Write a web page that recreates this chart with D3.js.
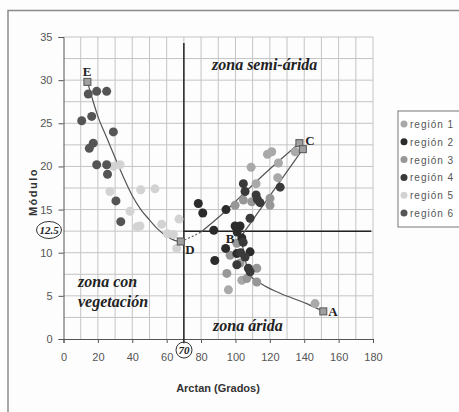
<!DOCTYPE html>
<html>
<head>
<meta charset="utf-8">
<script src="https://cdn.jsdelivr.net/npm/d3@7"></script>
<style>
  body { margin: 0; background: #fff; }
  svg { display: block; font-family: "Liberation Sans", Arial, sans-serif; }
  .tick text { fill: #555; font-size: 11px; }
  .zone { font-family: "Liberation Serif", "Times New Roman", serif; font-style: italic; font-weight: bold; fill: #222; }
  .pt-label { font-family: "Liberation Serif", "Times New Roman", serif; font-weight: bold; fill: #222; font-size: 13px; }
</style>
</head>
<body>
<div id="chart"></div>
<script>
// region series, [arctan (grados), modulo]
var region1 = [[118.6,21.4],[121.1,21.7],[134.7,21.7],[125,20.4],[109.1,19.9],[112,18.0],[124.6,18.7],[146.3,4.1],[95.9,5.7],[103.7,6.8]];
var region2 = [[78.4,15.7],[81,14.6],[94.5,15.0],[87.4,12.6],[99.8,13.1],[102.7,13.1],[101,12.4],[103.7,11.7],[94.3,10.5],[88,9.1],[100.8,9.9],[108.5,10.1]];
var region3 = [[109.5,15.9],[120.1,16.3],[120.1,15.5],[99.8,15.5],[104.6,16.1],[96.9,9.7],[102.7,8.8],[112.4,8.2],[112.4,6.6],[106.6,7.0],[95,7.6],[100.8,11.1]];
var region4 = [[104.6,18.0],[105.6,17.1],[112,16.7],[112.7,16.2],[114.3,15.8],[126,17.6],[108.5,14.0],[104.5,11.2],[105.6,9.5],[107.5,8.2],[108.5,7.8],[100.8,8.6],[103,10]];
var region5 = [[29,20.0],[32.9,20.2],[27,17.1],[44.9,17.3],[53.2,17.4],[38.7,14.8],[44.5,13.1],[42.8,13.0],[57.1,13.3],[67.2,13.9],[60.4,12.2],[63.9,12.1],[65.8,10.5]];
var region6 = [[14.4,28.4],[19.3,28.7],[25.1,28.7],[10.6,25.3],[16.4,25.8],[29.0,24.0],[17.3,22.7],[15.0,22.1],[19.3,20.2],[25.1,20.2],[25.6,19.1],[30.5,16.0],[33.3,13.6]];

var regionNames = ['región 1', 'región 2', 'región 3', 'región 4', 'región 5', 'región 6'];
var regionColors = ['#a9a9a9', '#2b2b2b', '#979797', '#3a3a3a', '#d3d3d3', '#555555'];

// trend lines
var curveED = [[13.9,29.8],[17,27.7],[20,25.8],[25,23.4],[30,21.0],[35,18.7],[40,16.6],[45,15.0],[50,13.8],[55,12.7],[60,11.9],[65,11.4],[68.2,11.3]];
var curveDdash = [[68.2,11.3],[74,11.8],[80,12.4]];
var curveDC = [[80,12.4],[93,14.6],[105,16.9],[120,19.7],[137.2,22.7]];
var lineBC = [[103,11.8],[139.2,22.0]];
var curveBA = [[103,11.8],[105.5,9.5],[107.5,7.6],[115,6.4],[126,5.3],[141.5,4.1],[151.1,3.2]];

var corners = [
  {name: 'E', x: 13.9, y: 29.8},
  {name: 'D', x: 68.2, y: 11.3},
  {name: 'C', x: 137.2, y: 22.7},
  {name: '', x: 139.2, y: 22.0},
  {name: 'A', x: 151.1, y: 3.2}
];

var xTicks = [0, 20, 40, 60, 80, 100, 120, 140, 160, 180],
    yTicks = [0, 5, 10, 15, 20, 25, 30, 35];

var width = 459, height = 412;

var x = d3.scaleLinear().domain([0, 180]).range([63.5, 373]),
    y = d3.scaleLinear().domain([0, 35]).range([339, 37]);

var svg = d3.select('#chart')
            .append('svg')
            .attr('width', width)
            .attr('height', height);

svg.append('rect')
   .attr('width', width)
   .attr('height', height)
   .attr('fill', '#fdfdfd');

// outer frame
svg.append('rect')
   .attr('x', 8)
   .attr('y', 10.5)
   .attr('width', 470)
   .attr('height', 420)
   .attr('fill', 'none')
   .attr('stroke', '#8a8a8a')
   .attr('stroke-width', 1.5);

// grid
var grid = svg.append('g');
grid.selectAll('.vg')
    .data(d3.range(10, 181, 10))
    .enter()
    .append('line')
    .attr('x1', function(d) { return x(d); })
    .attr('x2', function(d) { return x(d); })
    .attr('y1', y(0))
    .attr('y2', y(35))
    .attr('stroke', '#c4c4c4')
    .attr('stroke-width', 1);
grid.selectAll('.hg')
    .data(d3.range(2.5, 35.1, 2.5))
    .enter()
    .append('line')
    .attr('x1', x(0))
    .attr('x2', x(180))
    .attr('y1', function(d) { return y(d); })
    .attr('y2', function(d) { return y(d); })
    .attr('stroke', '#c4c4c4')
    .attr('stroke-width', 1);

// axes
var xAxis = d3.axisBottom(x).tickValues(xTicks).tickSize(4).tickPadding(10);
var yAxis = d3.axisLeft(y).tickValues(yTicks).tickSize(5).tickPadding(6);

svg.append('g')
   .attr('transform', 'translate(0,' + y(0) + ')')
   .call(xAxis)
   .call(function(g) { g.select('.domain').attr('stroke', '#555'); g.selectAll('line').attr('stroke', '#555'); });

svg.append('g')
   .attr('transform', 'translate(' + x(0) + ',0)')
   .call(yAxis)
   .call(function(g) { g.select('.domain').attr('stroke', '#555'); g.selectAll('line').attr('stroke', '#555'); });

svg.append('text')
   .attr('x', 218)
   .attr('y', 392)
   .attr('text-anchor', 'middle')
   .attr('font-size', 11)
   .attr('font-weight', 'bold')
   .attr('fill', '#333')
   .text('Arctan (Grados)');

svg.append('text')
   .attr('transform', 'translate(37,192) rotate(-90)')
   .attr('text-anchor', 'middle')
   .attr('font-size', 11)
   .attr('font-weight', 'bold')
   .attr('letter-spacing', 1.5)
   .attr('fill', '#333')
   .text('Módulo');

// threshold lines
svg.append('line')
   .attr('x1', x(70)).attr('x2', x(70))
   .attr('y1', y(-0.5)).attr('y2', y(34.3))
   .attr('stroke', '#222').attr('stroke-width', 1.5);
svg.append('line')
   .attr('x1', x(70)).attr('x2', x(179))
   .attr('y1', y(12.5)).attr('y2', y(12.5))
   .attr('stroke', '#222').attr('stroke-width', 1.5);

// trend lines
var line = d3.line()
             .x(function(d) { return x(d[0]); })
             .y(function(d) { return y(d[1]); })
             .curve(d3.curveMonotoneX);

[curveED, curveDC, lineBC, curveBA].forEach(function(pts) {
  svg.append('path')
     .attr('d', line(pts))
     .attr('fill', 'none')
     .attr('stroke', '#555')
     .attr('stroke-width', 1.2);
});
svg.append('path')
   .attr('d', line(curveDdash))
   .attr('fill', 'none')
   .attr('stroke', '#666')
   .attr('stroke-width', 1.2)
   .attr('stroke-dasharray', '2,2');

// points
var regions = [region1, region2, region3, region4, region5, region6];
var plotOrder = [4, 5, 0, 2, 1, 3];
plotOrder.forEach(function(i) {
  svg.append('g')
     .selectAll('circle')
     .data(regions[i])
     .enter()
     .append('circle')
     .attr('cx', function(d) { return x(d[0]); })
     .attr('cy', function(d) { return y(d[1]); })
     .attr('r', 4.5)
     .attr('fill', regionColors[i]);
});

// corner squares
svg.append('g')
   .selectAll('rect')
   .data(corners)
   .enter()
   .append('rect')
   .attr('x', function(d) { return x(d.x) - 3.5; })
   .attr('y', function(d) { return y(d.y) - 3.5; })
   .attr('width', 7)
   .attr('height', 7)
   .attr('fill', '#a0a0a0')
   .attr('stroke', '#555')
   .attr('stroke-width', 1);

var labelPos = {E: [87, 76], D: [190, 254], B: [230, 243], C: [310, 145], A: [333, 316]};
Object.keys(labelPos).forEach(function(k) {
  svg.append('text')
     .attr('class', 'pt-label')
     .attr('x', labelPos[k][0])
     .attr('y', labelPos[k][1])
     .attr('text-anchor', 'middle')
     .text(k);
});

// zone labels
svg.append('text').attr('class', 'zone').attr('x', 212).attr('y', 70).attr('font-size', 16).text('zona semi-árida');
svg.append('text').attr('class', 'zone').attr('x', 78).attr('y', 287).attr('font-size', 16).text('zona con');
svg.append('text').attr('class', 'zone').attr('x', 78).attr('y', 307).attr('font-size', 16).text('vegetación');
svg.append('text').attr('class', 'zone').attr('x', 213).attr('y', 331).attr('font-size', 16).text('zona árida');

// circled thresholds
svg.append('ellipse').attr('cx', 49).attr('cy', 230).attr('rx', 12.5).attr('ry', 8.5)
   .attr('fill', 'none').attr('stroke', '#333').attr('stroke-width', 1);
svg.append('text').attr('class', 'zone').attr('x', 49).attr('y', 234).attr('text-anchor', 'middle')
   .attr('font-size', 11).text('12.5');
svg.append('circle').attr('cx', 184).attr('cy', 350).attr('r', 8)
   .attr('fill', 'none').attr('stroke', '#333').attr('stroke-width', 1);
svg.append('text').attr('class', 'zone').attr('x', 184).attr('y', 354).attr('text-anchor', 'middle')
   .attr('font-size', 11).text('70');

// legend
var legend = svg.append('g').attr('transform', 'translate(398,111)');
legend.append('rect')
      .attr('width', 80)
      .attr('height', 116)
      .attr('fill', '#fff')
      .attr('stroke', '#777')
      .attr('stroke-width', 1);
var item = legend.selectAll('.item')
                 .data(regionNames)
                 .enter()
                 .append('g')
                 .attr('transform', function(d, i) { return 'translate(0,' + (13 + i * 17.8) + ')'; });
item.append('circle')
    .attr('cx', 6)
    .attr('cy', 0)
    .attr('r', 3.5)
    .attr('fill', function(d, i) { return regionColors[i]; });
item.append('text')
    .attr('x', 12)
    .attr('y', 4)
    .attr('font-size', 10)
    .attr('letter-spacing', 1)
    .attr('fill', '#555')
    .text(function(d) { return d; });
</script>
</body>
</html>
